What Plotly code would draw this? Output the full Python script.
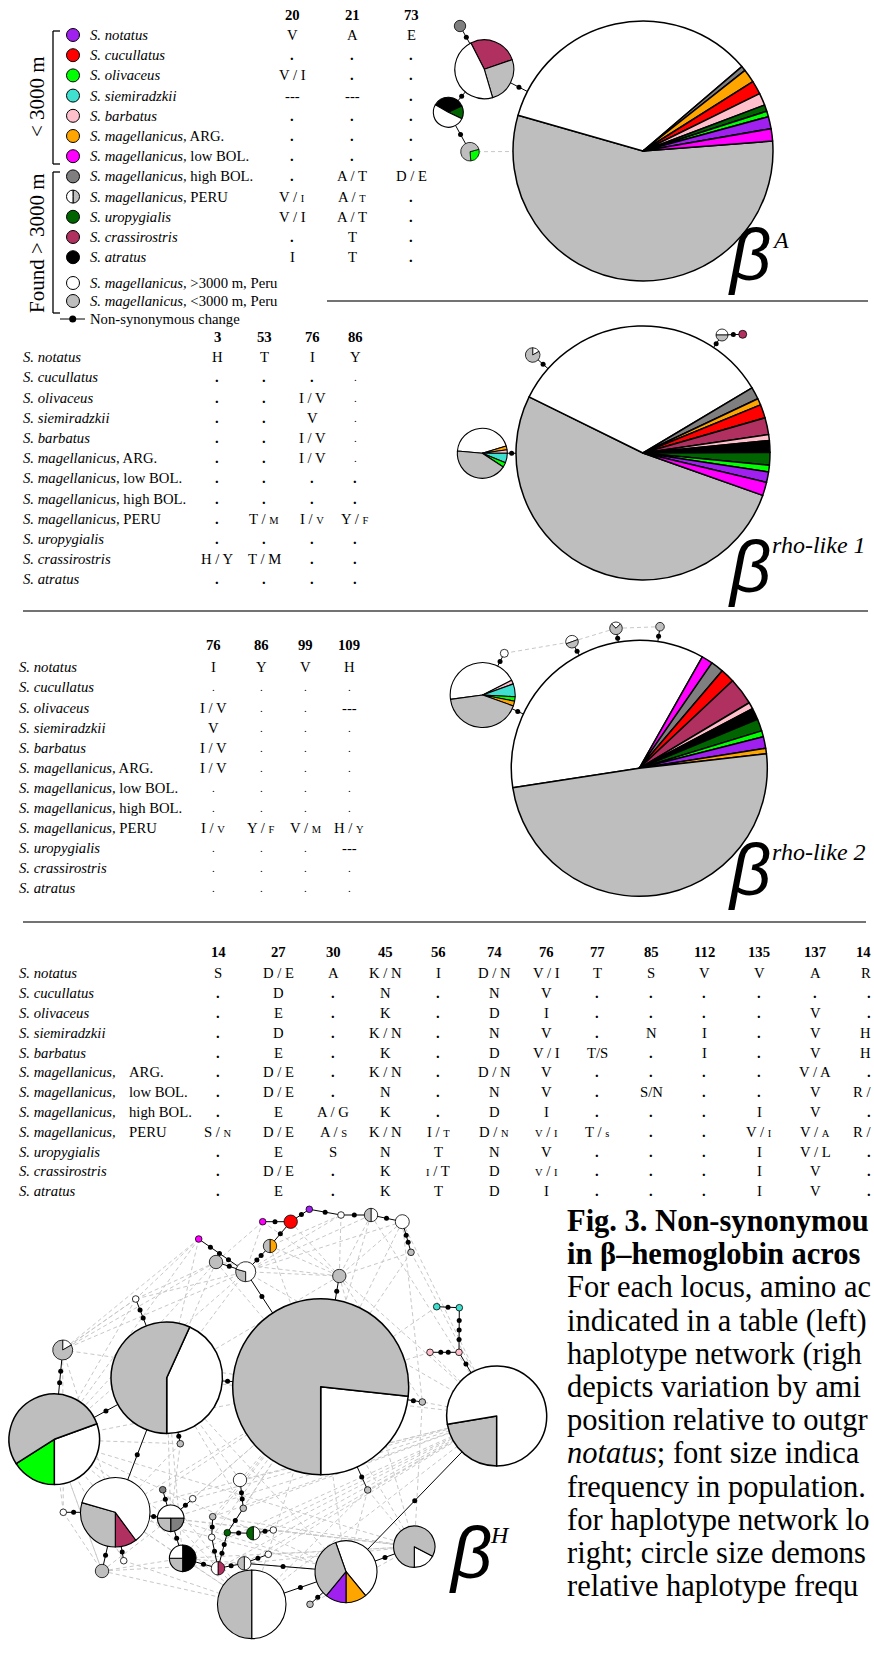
import plotly.graph_objects as go

W, H = 874, 1658
SERIF = "Liberation Serif"
SANS = "Liberation Sans"
FS = 14.7  # table font size

C = {"purple": "#A020F0", "red": "#FF0000", "lime": "#00FF00", "turq": "#40E0D0",
     "pink": "#FFC0CB", "orange": "#FFA500", "magenta": "#FF00FF", "dgray": "#7F7F7F",
     "dgreen": "#006400", "maroon": "#B03060", "black": "#000000", "white": "#FFFFFF",
     "gray": "#BEBEBE"}

# ---------------- table data ----------------
species = ["S. notatus", "S. cucullatus", "S. olivaceus", "S. siemiradzkii", "S. barbatus",
           "S. magellanicus,", "S. magellanicus,", "S. magellanicus,", "S. magellanicus,",
           "S. uropygialis", "S. crassirostris", "S. atratus"]
locations = ["", "", "", "", "", "ARG.", "low BOL.", "high BOL.", "PERU", "", "", ""]
legend_colors = ["purple", "red", "lime", "turq", "pink", "orange", "magenta",
                 "dgray", "half", "dgreen", "maroon", "black"]

colsA = ["20", "21", "73"]
valsA = [["V", "A", "E"], [".", ".", "."], ["V / I", ".", "."], ["---", "---", "."],
         [".", ".", "."], [".", ".", "."], [".", ".", "."], [".", "A / T", "D / E"],
         ["V / ~I", "A / ~T", "."], ["V / I", "A / T", "."], [".", "T", "."], ["I", "T", "."]]

colsR1 = ["3", "53", "76", "86"]
valsR1 = [["H", "T", "I", "Y"], [".", ".", ".", "s"], [".", ".", "I / V", "s"],
          [".", ".", "V", "s"], [".", ".", "I / V", "s"], [".", ".", "I / V", "s"],
          [".", ".", ".", "."], [".", ".", ".", "."], [".", "T / ~M", "I / ~V", "Y / ~F"],
          [".", ".", ".", "."], ["H / Y", "T / M", ".", "."], [".", ".", ".", "."]]

colsR2 = ["76", "86", "99", "109"]
valsR2 = [["I", "Y", "V", "H"], ["s", "s", "s", "s"], ["I / V", "s", "s", "---"],
          ["V", "s", "s", "s"], ["I / V", "s", "s", "s"], ["I / V", "s", "s", "s"],
          ["s", "s", "s", "s"], ["s", "s", "s", "s"], ["I / ~V", "Y / ~F", "V / ~M", "H / ~Y"],
          ["s", "s", "s", "---"], ["s", "s", "s", "s"], ["s", "s", "s", "s"]]

colsH = ["14", "27", "30", "45", "56", "74", "76", "77", "85", "112", "135", "137"]
valsH = [["S", "D / E", "A", "K / N", "I", "D / N", "V / I", "T", "S", "V", "V", "A"],
         [".", "D", ".", "N", ".", "N", "V", ".", ".", ".", ".", "."],
         [".", "E", ".", "K", ".", "D", "I", ".", ".", ".", ".", "V"],
         [".", "D", ".", "K / N", ".", "N", "V", ".", "N", "I", ".", "V"],
         [".", "E", ".", "K", ".", "D", "V / I", "T/S", ".", "I", ".", "V"],
         [".", "D / E", ".", "K / N", ".", "D / N", "V", ".", ".", ".", ".", "V / A"],
         [".", "D / E", ".", "N", ".", "N", "V", ".", "S/N", ".", ".", "V"],
         [".", "E", "A / G", "K", ".", "D", "I", ".", ".", ".", "I", "V"],
         ["S / ~N", "D / E", "A / ~S", "K / N", "I / ~T", "D / ~N", "~V / ~I", "T / ~s", ".", ".", "V / ~I", "V / ~A"],
         [".", "E", "S", "N", "T", "N", "V", ".", ".", ".", "I", "V / L"],
         [".", "D / E", ".", "K", "~I / T", "D", "~V / ~I", ".", ".", ".", "I", "V"],
         [".", "E", ".", "K", "T", "D", "I", ".", ".", ".", "I", "V"]]
# last column, cut by the page edge in the original
edge_head = "14"
edge_vals = ["R", ".", ".", "H", "H", ".", "R /", ".", "R /", ".", ".", "."]

# ---------------- haplotype networks ----------------
netA_x = [643, 460, 484.3, 448.3, 470]
netA_y = [151, 26, 69.3, 112.3, 151.7]
netA_r = [130, 5.7, 29.5, 15, 9.3]
netA_vals = [[200.4, 123.5, 2.2, 6, 6.1, 5.5, 2.9, 2.5, 5.4, 5.5], [1], [98, 92.6, 169.4],
             [125, 50, 185], [100, 260]]
netA_cols = [["gray", "white", "dgray", "orange", "red", "pink", "dgreen", "lime", "purple", "magenta"],
             ["dgray"], ["maroon", "gray", "white"], ["black", "dgreen", "white"], ["lime", "gray"]]
netA_rot = [85.6, 0, 333, 300, 75]
netA_edges = [(1, 2, 1), (2, 0, 1), (2, 3, 1), (3, 4, 1)]
netA_dashed = [(4, 0)]

netR1_x = [643, 482.3, 532.7, 722, 742.7]
netR1_y = [453, 453.3, 355, 335, 334.3]
netR1_r = [127, 25, 7.3, 6, 4]
netR1_vals = [[186.9, 123, 5.6, 3, 6.2, 7.7, 2.7, 5.4, 5.8, 3.1, 4.8, 6.1],
              [157.7, 9, 8, 22, 11, 152.3], [60, 300], [180, 180], [1]]
netR1_cols = [["gray", "white", "dgray", "orange", "red", "maroon", "pink", "black", "dgreen", "lime", "purple", "magenta"],
              ["white", "orange", "pink", "turq", "lime", "gray"], ["white", "gray"], ["white", "gray"], ["maroon"]]
netR1_rot = [109.5, 275.3, 0, 270, 0]
netR1_edges = [(1, 0, 1), (2, 0, 1), (3, 0, 1), (3, 4, 1)]
netR1_dashed = []

netR2_x = [639.3, 482.7, 504.3, 572, 616, 660]
netR2_y = [768.3, 695, 653.3, 641.7, 628.3, 626.7]
netR2_r = [128, 32.5, 4, 6.3, 6.3, 4.3]
netR2_vals = [[128.2, 5.1, 5.8, 6.4, 12.4, 3, 5.3, 5.5, 2.7, 5.3, 2.5, 177.8],
              [160.7, 7, 23, 8, 8.7, 152.6], [1], [180, 180], [90, 270], [1]]
netR2_cols = [["white", "magenta", "dgray", "red", "maroon", "pink", "black", "dgreen", "lime", "purple", "orange", "gray"],
              ["white", "pink", "turq", "lime", "orange", "gray"], ["white"], ["white", "gray"], ["white", "gray"], ["gray"]]
netR2_rot = [261.3, 262.3, 0, 250, 315, 0]
netR2_edges = [(1, 0, 1), (2, 1, 1), (3, 0, 1), (4, 0, 1), (5, 0, 1)]
netR2_dashed = [(2, 3), (3, 4), (4, 5)]

netH_x = [309.3, 290.7, 262.7, 341, 371, 402.3, 411, 198.7, 270, 216, 245.7, 339.3, 135.7, 62.7,
          166.7, 320.7, 496.7, 54.3, 180.3, 115.3, 63.3, 102, 123.7, 162.7, 192.7, 170.7, 182.7,
          240, 243.3, 212.7, 211.7, 227.3, 253.3, 273.3, 218, 244.3, 268.3, 251.7, 310, 346,
          414.3, 422.3, 367.7, 436.7, 459.3, 430, 459]
netH_y = [1209.3, 1221.7, 1221.7, 1215, 1215, 1221.7, 1252.3, 1239, 1246, 1262, 1271.7, 1276,
          1299, 1350, 1377.7, 1386.7, 1416, 1439.3, 1443.7, 1512.3, 1512.3, 1571, 1560.7, 1489.7,
          1498.7, 1518.3, 1558.3, 1480, 1508.3, 1516.7, 1537.3, 1532.7, 1533.3, 1530, 1568.3,
          1563.3, 1554.3, 1604.3, 1604.3, 1571.7, 1546.7, 1402, 1490, 1306.7, 1307.7, 1352.3, 1352.3]
netH_r = [3.3, 6.7, 3.3, 3.3, 6.7, 7, 3.3, 3.3, 6.7, 6.7, 10, 6.7, 3.3, 10, 55.7, 88, 50, 45.3,
          3.3, 34.7, 3.3, 6.7, 3.3, 3.3, 3.3, 13.3, 13.3, 6.7, 3.3, 3.3, 3.3, 3.3, 6.7, 3.3, 6.7,
          6.7, 3.3, 34.3, 3.3, 31, 20.7, 3.3, 3.3, 3.3, 3.3, 3.3, 3.3]
netH_vals = [[1], [1], [1], [1], [1, 1], [1], [1], [1], [1, 1], [1], [105, 255], [1], [1], [60, 300],
             [155.6, 204.4], [83.7, 276.3], [80.4, 279.6], [110, 57.4, 192.6], [1], [36.4, 106.2, 217.4],
             [1], [1], [1], [1], [1], [180, 90, 90], [180, 90, 90], [1], [1], [1], [1], [1], [1, 1], [1],
             [1, 1], [1, 1], [1], [1, 1], [1], [160.1, 39.3, 39.6, 121], [62.2, 297.8], [1], [1], [1],
             [1], [1], [1]]
netH_cols = [["purple"], ["red"], ["magenta"], ["white"], ["white", "gray"], ["white"], ["gray"],
             ["magenta"], ["orange", "gray"], ["gray"], ["gray", "white"], ["gray"], ["white"],
             ["white", "gray"], ["white", "gray"], ["white", "gray"], ["gray", "white"],
             ["white", "lime", "gray"], ["gray"], ["maroon", "gray", "white"], ["white"], ["gray"],
             ["white"], ["dgray"], ["white"], ["white", "dgray", "gray"], ["black", "gray", "white"],
             ["white"], ["gray"], ["gray"], ["white"], ["dgreen"], ["white", "dgreen"], ["white"],
             ["maroon", "white"], ["white", "gray"], ["white"], ["white", "gray"], ["gray"],
             ["white", "orange", "purple", "gray"], ["white", "gray"], ["gray"], ["gray"], ["turq"],
             ["turq"], ["pink"], ["pink"]]
netH_rot = [0, 0, 0, 0, 0, 0, 0, 0, 0, 0, 180, 0, 0, 0, 24.4, 96.3, 180, 70, 0, 143.6, 0, 0, 0, 0,
            0, 270, 0, 0, 0, 0, 0, 0, 0, 0, 0, 0, 0, 0, 0, 340.6, 117.8, 0, 0, 0, 0, 0, 0]
netH_edges = [(2, 1, 1), (1, 0, 1), (0, 3, 1), (3, 4, 1), (4, 5, 1), (5, 6, 2), (1, 8, 1),
              (8, 10, 2), (7, 10, 3), (9, 10, 1), (10, 15, 1), (11, 15, 1), (12, 14, 2),
              (13, 17, 2), (17, 14, 1), (14, 15, 1), (14, 18, 1), (14, 19, 1), (19, 20, 1),
              (19, 21, 1), (19, 22, 1), (19, 25, 1), (25, 23, 1), (25, 24, 1), (25, 26, 1),
              (26, 34, 1), (34, 31, 2), (31, 28, 1), (28, 27, 2), (34, 30, 1), (30, 29, 1),
              (31, 32, 1), (32, 33, 1), (34, 35, 1), (35, 36, 1), (35, 39, 1), (37, 39, 1),
              (38, 39, 1), (39, 16, 1), (39, 40, 1), (15, 41, 1), (15, 42, 1), (43, 44, 1),
              (44, 46, 3), (45, 46, 2), (46, 16, 1)]
netH_dashed = [(10, 14), (10, 13), (10, 17), (10, 4), (10, 5), (10, 11), (10, 3), (9, 14), (9, 13),
               (7, 13), (8, 15), (8, 11), (2, 9), (2, 10), (1, 11), (4, 15), (4, 16), (5, 15),
               (5, 11), (3, 8), (11, 16), (11, 14), (11, 40), (13, 12), (12, 10), (12, 9), (17, 19),
               (17, 15), (17, 25), (17, 40), (14, 25), (14, 28), (14, 26), (14, 39), (15, 39),
               (15, 25), (15, 19), (15, 37), (15, 40), (15, 26), (15, 29), (16, 41), (16, 19),
               (16, 25), (16, 26), (16, 37), (16, 42), (16, 45), (16, 35), (19, 37), (19, 26),
               (19, 39), (21, 37), (21, 25), (21, 17), (20, 17), (23, 17), (26, 37), (26, 39),
               (29, 40), (27, 15), (27, 16), (28, 16), (33, 40), (36, 40), (38, 40), (42, 40),
               (45, 15), (41, 40), (43, 15), (6, 16), (6, 15), (5, 16), (7, 12), (9, 17), (24, 15),
               (12, 13), (7, 14), (9, 15), (2, 11), (3, 11), (6, 11), (4, 11), (5, 41), (11, 41),
               (42, 39), (42, 37), (40, 19), (40, 25), (40, 26), (39, 25), (39, 23), (37, 25),
               (37, 23), (21, 26), (21, 35), (22, 37), (20, 21), (20, 13), (17, 21), (17, 22),
               (17, 37), (24, 16), (23, 15), (27, 14), (28, 15), (29, 16), (33, 16), (36, 16),
               (32, 16), (35, 40), (34, 16), (30, 15), (31, 15), (18, 17), (18, 19), (18, 25),
               (14, 16), (13, 19), (12, 17), (13, 15), (10, 16), (9, 11), (7, 17)]

caption = ["<b>Fig. 3. Non-synonymou</b>", "<b>in \u03b2\u2013hemoglobin acros</b>",
           "For each locus, amino ac", "indicated in a table (left)", "haplotype network (righ",
           "depicts variation by ami", "position relative to outgr", "<i>notatus</i>; font size indica",
           "frequency in population.", "for haplotype network lo", "right; circle size demons",
           "relative haplotype frequ"]

# ---------------- figure ----------------
fig = go.Figure()
ann = []
shapes = []


def txt(x, y, s, size=FS, anchor="center", family=SERIF, angle=0, color="black"):
    ann.append(dict(x=x, y=y, xref="x", yref="y", text=s, showarrow=False, xanchor=anchor,
                    yanchor="middle", textangle=angle,
                    font=dict(family=family, size=size, color=color)))


def fmt(v):
    if v == ".":
        return "<b>.</b>"
    if v == "s":
        return '<span style="font-size:11px">.</span>'
    out = []
    for p in v.split(" "):
        if p.startswith("~"):
            out.append('<span style="font-size:10.5px">' + p[1:] + "</span>")
        else:
            out.append(p)
    return " ".join(out)


def seg(x0, x1, y0, y1, w=1.3, color="black"):
    shapes.append(dict(type="line", xref="x", yref="y", x0=x0, x1=x1, y0=y0, y1=y1,
                       line=dict(color=color, width=w)))


def table(cols, vals, colx, y0, dy, namex, locx=None, head_y=None):
    for c, x in zip(cols, colx):
        txt(x, head_y, "<b>" + c + "</b>")
    for i, row in enumerate(vals):
        y = y0 + dy * i
        if locx is None:
            name = "<i>" + species[i] + "</i>" + ((" " + locations[i]) if locations[i] else "")
            txt(namex, y, name, anchor="left")
        else:
            txt(namex, y, "<i>" + species[i] + "</i>", anchor="left")
            if locations[i]:
                txt(locx, y, locations[i], anchor="left")
        for v, x in zip(row, colx):
            txt(x, y, fmt(v))


def norm(a):
    return ((a + 180) % 360) - 180


def network(xs, ys, rs, vals, cols, rots, edges, dashed):
    dx, dy = [], []
    for i, j in dashed:
        dx += [xs[i], xs[j], None]
        dy += [ys[i], ys[j], None]
    if dx:
        fig.add_trace(go.Scatter(x=dx, y=dy, mode="lines", hoverinfo="skip",
                                 line=dict(color="#C8C8C8", width=1, dash="4px,3px")))
    lx, ly, mx, my = [], [], [], []
    for i, j, n in edges:
        lx += [xs[i], xs[j], None]
        ly += [ys[i], ys[j], None]
        ddx, ddy = xs[j] - xs[i], ys[j] - ys[i]
        d = (ddx ** 2 + ddy ** 2) ** 0.5
        ux, uy = ddx / d, ddy / d
        sx, sy = xs[i] + ux * rs[i], ys[i] + uy * rs[i]
        ex, ey = xs[j] - ux * rs[j], ys[j] - uy * rs[j]
        for k in range(1, n + 1):
            f = k / (n + 1)
            mx.append(sx + (ex - sx) * f)
            my.append(sy + (ey - sy) * f)
    fig.add_trace(go.Scatter(x=lx, y=ly, mode="lines", hoverinfo="skip",
                             line=dict(color="black", width=1)))
    fig.add_trace(go.Scatter(x=mx, y=my, mode="markers", hoverinfo="skip",
                             marker=dict(color="black", size=5)))
    for x, y, r, v, c, rot in zip(xs, ys, rs, vals, cols, rots):
        lw = 1.5 if r > 40 else (1.1 if r > 12 else 0.8)
        fig.add_trace(go.Pie(values=v, marker=dict(colors=[C[k] for k in c],
                                                   line=dict(color="black", width=lw)),
                             sort=False, direction="clockwise", rotation=norm(rot),
                             textinfo="none", hoverinfo="skip", showlegend=False,
                             domain=dict(x=[(x - r) / W, (x + r) / W],
                                         y=[1 - (y + r) / H, 1 - (y - r) / H])))


# ---- panel A ----
rowsA = [35 + 20.2 * i for i in range(12)]
table(colsA, valsA, [292, 352, 411], 35, 20.2, 88, head_y=15)
lx, ly, lc = [], [], []
for i, c in enumerate(legend_colors):
    if c != "half":
        lx.append(73)
        ly.append(rowsA[i])
        lc.append(C[c])
lx += [73, 73]
ly += [283, 301]
lc += [C["white"], C["gray"]]
fig.add_trace(go.Scatter(x=lx, y=ly, mode="markers", hoverinfo="skip",
                         marker=dict(size=13, color=lc, line=dict(color="black", width=1))))
fig.add_trace(go.Pie(values=[1, 1], marker=dict(colors=[C["gray"], C["white"]],
                                                line=dict(color="black", width=1)),
                     sort=False, direction="clockwise", rotation=0, textinfo="none",
                     hoverinfo="skip", showlegend=False,
                     domain=dict(x=[(73 - 6.5) / W, (73 + 6.5) / W],
                                 y=[1 - (rowsA[8] + 6.5) / H, 1 - (rowsA[8] - 6.5) / H])))
txt(88, 283, "<i>S. magellanicus,</i> &gt;3000 m, Peru", anchor="left")
txt(88, 301, "<i>S. magellanicus,</i> &lt;3000 m, Peru", anchor="left")
seg(53, 53, 31, 164)
seg(53, 60, 31, 31)
seg(53, 60, 164, 164)
seg(53, 53, 172, 313)
seg(53, 60, 172, 172)
seg(53, 60, 313, 313)
txt(37, 97, "&lt; 3000 m", size=21, angle=-90)
txt(37, 243, "Found &gt; 3000 m", size=21, angle=-90)
fig.add_trace(go.Scatter(x=[60, 72.7, 85], y=[319, 319, 319], mode="lines", hoverinfo="skip",
                         line=dict(color="black", width=1)))
fig.add_trace(go.Scatter(x=[72.7], y=[319], mode="markers", hoverinfo="skip",
                         marker=dict(color="black", size=7)))
txt(88, 319, "Non-synonymous change", anchor="left")
network(netA_x, netA_y, netA_r, netA_vals, netA_cols, netA_rot, netA_edges, netA_dashed)
seg(327, 868, 301, 301, w=1.6, color="#444444")

# ---- panel rho-like 1 ----
table(colsR1, valsR1, [217, 264, 312, 355], 357.3, 20.18, 21, head_y=336.7)
network(netR1_x, netR1_y, netR1_r, netR1_vals, netR1_cols, netR1_rot, netR1_edges, netR1_dashed)
seg(23, 868, 611, 611, w=1.6, color="#444444")

# ---- panel rho-like 2 ----
table(colsR2, valsR2, [213.3, 261, 305.7, 349], 667.3, 20.1, 16.7, head_y=645)
network(netR2_x, netR2_y, netR2_r, netR2_vals, netR2_cols, netR2_rot, netR2_edges, netR2_dashed)
seg(23, 866, 922, 922, w=1.6, color="#444444")

# ---- panel H ----
table(colsH, valsH, [218, 278, 333, 385, 438, 494, 546, 597, 651, 704, 759, 815],
      973.3, 19.8, 16.7, locx=126.7, head_y=951.7)
txt(873, 951.7, "<b>" + edge_head + "</b>", anchor="right")
for i, v in enumerate(edge_vals):
    txt(873, 973.3 + 19.8 * i, fmt(v), anchor="right")
network(netH_x, netH_y, netH_r, netH_vals, netH_cols, netH_rot, netH_edges, netH_dashed)

# ---- gene labels ----
for bx, by, sx, sy, sup, anc in [(749, 255, 780, 240, "A", "center"),
                                 (749, 567, 770, 545, "rho-like 1", "left"),
                                 (749, 870, 770, 852, "rho-like 2", "left"),
                                 (470, 1553, 500, 1535, "H", "center")]:
    txt(bx, by, "<i>\u03b2</i>", size=72, family=SANS)
    txt(sx, sy, "<i>" + sup + "</i>", size=24, anchor=anc)

# ---- caption ----
for k, line in enumerate(caption):
    txt(565, 1221 + 33.2 * k, line, size=30.5, anchor="left")

fig.update_layout(width=W, height=H, margin=dict(l=0, r=0, t=0, b=0),
                  paper_bgcolor="white", plot_bgcolor="white", showlegend=False,
                  xaxis=dict(range=[0, W], visible=False, fixedrange=True),
                  yaxis=dict(range=[H, 0], visible=False, fixedrange=True),
                  annotations=ann, shapes=shapes)
fig.write_html("out.html")
